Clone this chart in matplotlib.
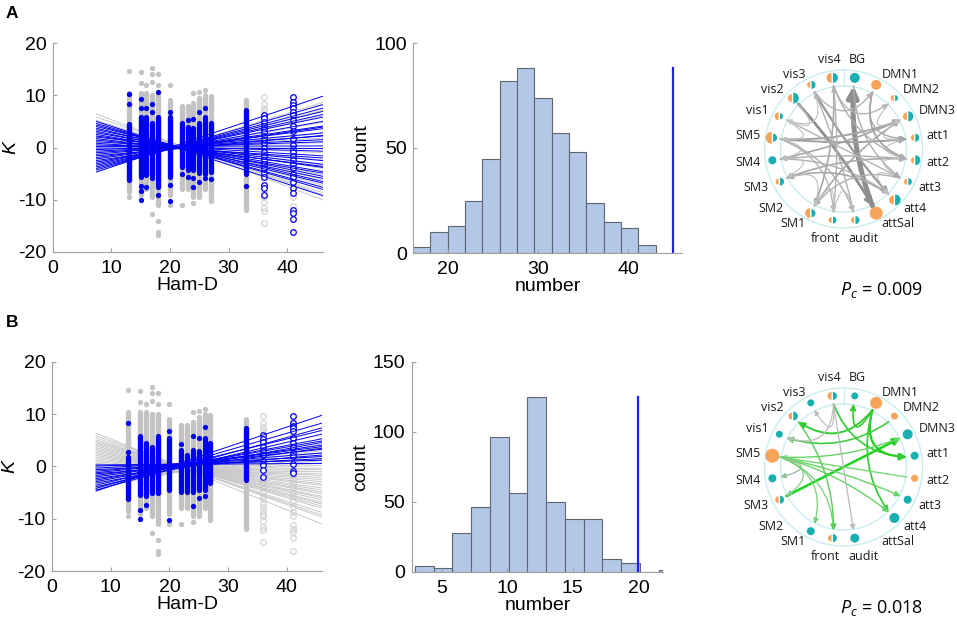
import numpy as np
import matplotlib.pyplot as plt
from matplotlib.patches import Wedge, Circle, FancyArrowPatch
from matplotlib.path import Path

plt.rcParams['font.family'] = ['Liberation Sans', 'DejaVu Sans']
plt.rcParams['axes.unicode_minus'] = False
plt.rcParams['mathtext.fontset'] = 'custom'
plt.rcParams['mathtext.it'] = 'Open Sans:italic'
plt.rcParams['mathtext.rm'] = 'Open Sans'

# ---------------- data: K vs Ham-D scatter ----------------
hamd_cols = [13, 15, 16, 17, 18, 20, 22, 23, 24, 25, 26, 27, 33]
gray_lo = [-8.5, -9.0, -8.0, -9.5, -11.0, -9.0, -8.0, -8.0, -9.5, -9.5, -8.0, -10.3, -12.0]
gray_hi = [10.5, 10.5, 10.5, 10.0, 10.0, 9.0, 8.0, 8.0, 8.5, 9.5, 10.0, 9.8, 9.0]
gray_extra_x = [13, 13, 15, 15, 16, 17, 17, 17, 17, 18, 18, 18, 18, 18, 20, 20, 22, 24, 24, 25, 26]
gray_extra_k = [14.7, -9.5, 14.5, 12.3, 12.0, 15.3, 14.0, 12.5, -12.7, 14.0, 12.0, -14.0,
                -16.2, -16.7, 12.0, -11.0, -11.0, 10.5, -10.7, 10.7, 11.0]

open36_all = [9.7, 8.3, 7.6, 6.9, 6.2, 5.6, 5.3, 4.9, 4.6, 4.2, 3.8, 3.6, 3.0, 2.9, 2.2, 1.4,
              1.0, 0.8, 0.2, 0.0, -0.6, -0.8, -1.6, -2.0, -2.4, -3.2, -4.0, -4.8, -5.6, -6.3,
              -7.1, -7.8, -8.5, -9.0, -9.5, -10.5, -11.5, -12.2, -14.5]
open41_all = [9.7, 8.7, 8.3, 8.1, 7.8, 7.5, 7.3, 6.8, 6.7, 6.2, 5.5, 5.2, 4.5, 4.1, 3.8, 3.1,
              2.6, 2.0, 1.7, 0.4, -0.2, -0.8, -1.2, -1.6, -2.4, -3.2, -4.0, -5.0, -5.6, -6.6,
              -7.8, -8.8, -9.5, -11.2, -12.0, -12.5, -13.6, -16.2]

# panel A significant (blue) points
blue_a_lo = [-6.2, -5.6, -5.3, -5.3, -7.5, -5.6, -3.7, -4.3, -4.3, -4.8, -5.0, -4.6, -5.0]
blue_a_hi = [4.5, 5.9, 5.9, 4.6, 5.9, 5.9, 4.6, 3.9, 3.7, 4.6, 5.8, 4.6, 7.2]
blue_a_extra_x = [13, 13, 15, 15, 15, 15, 15, 16, 16, 17, 17, 17, 18, 18, 20, 20, 20, 22,
                  23, 23, 24, 24, 24, 25, 25, 26, 26, 27, 33]
blue_a_extra_k = [10.3, 8.3, 9.3, 7.5, -7.4, -8.3, -10.1, 7.5, -7.5, 8.4, 6.8, -5.9, 10.6,
                  -9.0, 6.8, -7.2, -10.3, -5.0, 5.2, -5.6, 5.5, -5.9, -7.5, 6.8, -6.6, 7.5,
                  -5.9, -6.0, -7.3]
blue_a_36 = [6.2, 5.6, 4.9, 4.2, 3.6, 2.9, 2.2, 1.4, 0.8, 0.0, -0.8, -1.6, -2.4, -3.2, -4.0,
             -4.8, -5.6, -7.1, -7.8, -9.0]
blue_a_41 = [9.7, 8.7, 8.1, 7.5, 6.8, 6.2, 5.2, 4.1, 3.1, 1.7, 0.4, -0.2, -0.8, -1.6, -2.4,
             -3.2, -4.0, -5.0, -5.6, -6.6, -7.8, -8.8, -12.0, -12.5, -13.6, -16.2]

# panel B significant (blue) points
blue_b_lo = [-6.3, -5.4, -5.7, -5.0, -5.1, -4.5, -4.8, -4.8, -4.8, -4.5, -4.5, -3.2, -2.5]
blue_b_hi = [1.9, 5.9, 4.5, 3.8, 5.8, 5.4, 3.2, 2.2, 3.2, 3.0, 5.5, 4.5, 7.3]
blue_b_extra_x = [13, 13, 15, 15, 16, 20, 20, 22, 24, 24, 25, 25, 26, 26]
blue_b_extra_k = [8.3, 2.8, -8.4, -10.1, -7.4, 6.7, -10.2, 4.3, 5.9, -7.5, 5.5, -6.0, 7.6, -5.7]
blue_b_36 = [6.0, 5.3, 4.6, 3.8, 3.0, 2.2, 1.0, 0.2, -0.6, -2.0]
blue_b_41 = [9.7, 8.3, 7.8, 7.3, 6.7, 5.5, 4.5, 3.8, 2.6, 2.0, 0.4, -0.8, -1.2]

# regression lines: K at Ham-D = 7.5 (left) and 46 (right)
line_x = [7.5, 46]
gray_a_left = [6.4, 5.8, 5.2, 4.8, 4.2, 3.5, 2.9, 2.2, 1.6, 1.0, 0.4, -0.3, -0.9, -1.5, -2.1,
               -2.8, -3.4, -4.0, -4.5]
gray_a_right = [-10.0, -9.0, -8.6, -7.2, -6.1, -5.2, -4.0, -3.3, -2.4, -1.0, -0.2, 0.9, 1.8,
                2.7, 3.9, 4.8, 6.0, 7.1, 8.6]
blue_a_left = [5.0, 4.6, 4.3, 4.0, 3.7, 3.4, 3.1, 2.8, 2.5, 2.2, 2.0, 1.7, 1.4, 1.1, 0.8, 0.5,
               0.2, -0.1, -0.4, -0.7, -1.0, -1.3, -1.6, -1.9, -2.2, -2.5, -2.8, -3.1, -3.4,
               -3.7, -4.0, -4.3, -4.7]
blue_a_right = [-9.2, -8.0, -7.6, -6.5, -6.8, -5.5, -5.9, -4.6, -4.9, -3.8, -3.2, -3.6, -2.5,
                -1.6, -2.0, -0.7, 0.3, -0.2, 1.1, 1.5, 2.2, 2.8, 2.3, 3.6, 4.1, 3.9, 5.0, 5.8,
                6.3, 6.9, 7.5, 8.2, 9.8]
gray_b_left = [6.4, 5.9, 5.5, 5.1, 4.8, 4.5, 4.2, 3.9, 3.6, 3.3, 3.0, 2.7, 2.4, 2.1, 1.8, 1.5,
               1.2, 0.9, 0.6, 0.3, 0.0, -0.3, -0.6, -0.9, -1.2, -1.5, -1.8, -2.1, -2.4, -2.7,
               -3.0, -3.4, -3.8, -4.1]
gray_b_right = [-11.0, -9.7, -9.3, -8.8, -8.0, -7.6, -7.2, -6.9, -6.4, -6.0, -5.7, -5.2, -4.9,
                -4.5, -4.1, -3.6, -3.3, -2.9, -2.5, -2.1, -1.7, -1.4, -1.0, -0.6, -0.3, 0.2,
                0.6, 1.1, 1.5, 2.0, 2.6, 3.1, 3.7, 4.3]
blue_b_left = [0.3, 0.1, -0.3, -0.6, -0.9, -1.2, -1.4, -1.7, -2.0, -2.3, -2.6, -2.9, -3.2,
               -3.6, -3.9, -4.2, -4.5, -4.7]
blue_b_right = [0.6, 1.2, 1.9, 1.5, 2.6, 3.3, 2.2, 3.8, 4.1, 3.5, 4.9, 5.3, 4.6, 6.9, 6.2,
                8.3, 7.4, 9.8]

# ---------------- data: permutation histograms ----------------
a_counts = [3, 10, 13, 25, 45, 82, 88, 74, 57, 48, 24, 15, 12, 4]
a_bin_lo, a_bin_w = 16.1, 1.926
a_observed, a_obs_top = 45, 88
b_counts = [4, 3, 28, 46, 96, 56, 125, 50, 38, 38, 9, 6, 0, 1]
b_bin_lo, b_bin_w = 2.96, 1.43
b_observed, b_obs_top = 20, 125

# ---------------- data: circular graphs ----------------
nodes = ['BG', 'DMN1', 'DMN2', 'DMN3', 'att1', 'att2', 'att3', 'att4', 'attSal', 'audit',
         'front', 'SM1', 'SM2', 'SM3', 'SM4', 'SM5', 'vis1', 'vis2', 'vis3', 'vis4']
a_orange = [0, 5, 3, 4, 3, 3, 3, 4.5, 6.5, 3, 3, 5, 0, 3, 0, 6, 4, 4, 3, 5]
a_teal = [5, 0, 3, 5, 4, 5, 3.5, 5.5, 0, 4, 3.5, 4, 0, 4, 4, 4, 3, 5.5, 4, 5]
b_orange = [0, 6, 3.5, 0, 0, 3.5, 0, 0, 0, 0, 3.5, 0, 0, 3.5, 0, 7, 0, 3.5, 0, 4]
b_teal = [3.5, 0, 0, 5, 4, 0, 4, 5, 0, 4.5, 4, 4, 0, 4, 4, 0, 3.5, 4.5, 3.5, 4]

a_edges = [('attSal', 'BG', 3.6, '#8E8E8E'), ('vis2', 'attSal', 2.0, '#8E8E8E'),
           ('vis3', 'att4', 1.6, '#9A9A9A'), ('vis4', 'SM1', 1.2, '#A8A8A8'),
           ('vis4', 'DMN2', 1.0, '#B4B4B4'), ('vis3', 'DMN1', 1.0, '#B4B4B4'),
           ('DMN1', 'att2', 1.2, '#A0A0A0'), ('SM5', 'att1', 1.4, '#A0A0A0'),
           ('SM5', 'DMN3', 1.4, '#A4A4A4'), ('SM4', 'DMN3', 1.2, '#A4A4A4'),
           ('SM3', 'att2', 1.2, '#A8A8A8'), ('SM1', 'DMN3', 1.2, '#A8A8A8'),
           ('att2', 'SM4', 1.0, '#B0B0B0'), ('vis1', 'att3', 1.0, '#B4B4B4'),
           ('front', 'vis4', 1.0, '#B4B4B4'), ('audit', 'vis3', 1.0, '#B0B0B0'),
           ('att4', 'SM3', 1.2, '#A8A8A8'), ('att3', 'SM1', 1.0, '#B0B0B0'),
           ('SM5', 'audit', 1.0, '#B0B0B0'), ('SM5', 'front', 1.0, '#B4B4B4'),
           ('SM4', 'att4', 1.0, '#B0B0B0'), ('vis1', 'SM5', 0.8, '#BEBEBE'),
           ('SM5', 'SM4', 0.8, '#BEBEBE'), ('SM4', 'SM3', 0.8, '#BEBEBE'),
           ('SM3', 'SM1', 0.8, '#BEBEBE'), ('SM1', 'front', 0.8, '#BEBEBE'),
           ('front', 'audit', 0.8, '#BEBEBE'), ('DMN3', 'att1', 0.8, '#BEBEBE'),
           ('att1', 'att2', 0.8, '#BEBEBE'), ('att2', 'att3', 0.8, '#BEBEBE'),
           ('att3', 'att4', 0.8, '#BEBEBE'), ('DMN2', 'DMN3', 0.8, '#BEBEBE'),
           ('vis2', 'vis1', 0.8, '#BEBEBE'), ('vis3', 'vis1', 0.8, '#C4C4C4'),
           ('DMN1', 'att1', 1.0, '#A8A8A8'), ('BG', 'att3', 1.0, '#ACACAC'),
           ('vis4', 'att2', 1.0, '#ACACAC')]
b_edges = [('SM3', 'DMN3', 1.8, '#1ED21E'), ('DMN1', 'att1', 1.6, '#1ED21E'),
           ('DMN1', 'vis2', 1.4, '#33CC33'), ('DMN2', 'vis1', 1.2, '#44CC44'),
           ('DMN1', 'BG', 1.2, '#33CC33'), ('DMN1', 'att4', 1.2, '#33CC33'),
           ('vis4', 'att1', 1.2, '#33CC33'), ('SM5', 'DMN3', 1.0, '#66D466'),
           ('SM5', 'att3', 1.0, '#66D466'), ('SM5', 'att4', 1.0, '#66D466'),
           ('att2', 'SM5', 1.0, '#77D877'), ('SM5', 'SM4', 0.9, '#99BB99'),
           ('SM5', 'SM3', 0.9, '#88CC88'), ('SM5', 'SM1', 0.9, '#77D077'),
           ('SM5', 'front', 0.9, '#77D077'), ('vis2', 'front', 1.0, '#55CC55'),
           ('vis4', 'vis1', 0.9, '#BBBBBB'), ('vis4', 'vis3', 0.8, '#BBBBBB'),
           ('vis4', 'audit', 0.9, '#BBBBBB')]

W, H = 957, 623
fig = plt.figure(figsize=(W / 100, H / 100), dpi=100)

BLUE = '#0000F5'
GRAY = '#C3C3C3'
AXC = '#A0A0A0'
TEAL = '#17AFB0'
ORANGE = '#F7A45A'
RING = '#C2ECEE'
FS = 14


def px_axes(x0, y0, x1, y1):
    # pixel box (left, top, right, bottom) -> axes
    return fig.add_axes([x0 / W, 1 - y1 / H, (x1 - x0) / W, (y1 - y0) / H])


def style(ax):
    for s in ['top', 'right']:
        ax.spines[s].set_visible(False)
    for s in ['left', 'bottom']:
        ax.spines[s].set_color(AXC)
        ax.spines[s].set_linewidth(0.8)
    ax.tick_params(direction='in', length=3, color=AXC, labelsize=FS)
    ax.tick_params(axis='x', pad=6)
    ax.tick_params(axis='y', pad=4.5)


def scatter_panel(ax, b_lo, b_hi, bx, bk, b36, b41, gl, gr, bl, br):
    ax.vlines(hamd_cols, gray_lo, gray_hi, color=GRAY, lw=3.8, capstyle='round')
    ax.plot(gray_extra_x, gray_extra_k, 'o', ms=3.8, color=GRAY, mec='none')
    ax.plot([36] * len(open36_all), open36_all, 'o', mfc='none', mec='#D4D4D4', ms=4, mew=0.9)
    ax.plot([41] * len(open41_all), open41_all, 'o', mfc='none', mec='#D4D4D4', ms=4, mew=0.9)
    for l, r in zip(gl, gr):
        ax.plot(line_x, [l, r], color='#C8C8C8', lw=0.7)
    ax.vlines(hamd_cols, b_lo, b_hi, color=BLUE, lw=3.8, capstyle='round')
    ax.plot(bx, bk, 'o', ms=3.8, color=BLUE, mec='none')
    ax.plot([36] * len(b36), b36, 'o', mfc='white', mec=BLUE, ms=4, mew=0.9)
    ax.plot([41] * len(b41), b41, 'o', mfc='white', mec=BLUE, ms=4, mew=0.9)
    for l, r in zip(bl, br):
        ax.plot(line_x, [l, r], color=BLUE, lw=0.7)
    ax.set_xlim(0, 46)
    ax.set_ylim(-20, 20)
    ax.set_xticks([0, 10, 20, 30, 40])
    ax.set_yticks([-20, -10, 0, 10, 20])
    ax.set_xlabel('Ham-D', fontsize=FS, labelpad=0)
    ax.set_ylabel('K', fontsize=FS, style='italic', labelpad=-1)
    style(ax)


def hist_panel(ax, counts, lo, w, obs, top, xlim, yticks, xticks):
    edges = lo + w * np.arange(len(counts))
    ax.bar(edges, counts, width=w, align='edge', color='#B4C7E7', edgecolor='#5E6672', lw=0.8)
    ax.plot([obs, obs], [0, top], color='#1F1FFF', lw=1.6)
    ax.set_xlim(*xlim)
    ax.set_ylim(0, yticks[-1])
    ax.set_xticks(xticks)
    ax.set_yticks(yticks)
    ax.set_xlabel('number', fontsize=FS, labelpad=0)
    ax.set_ylabel('count', fontsize=FS, labelpad=3)
    style(ax)


R_IN, R_OUT, R_NODE, R_END, R_LAB = 63, 79, 72, 64, 84


def chord_panel(ax, orange, teal, edges):
    ax.set_xlim(-130, 130)
    ax.set_ylim(-130, 130)
    ax.axis('off')
    ang = np.deg2rad(81 - 18 * np.arange(len(nodes)))
    pos = {n: np.array([np.cos(a), np.sin(a)]) for n, a in zip(nodes, ang)}
    for r in (R_IN, R_OUT):
        ax.add_patch(Circle((0, 0), r, fill=False, ec=RING, lw=0.9))
    ax.plot([0, 0], [R_IN, R_OUT], color=RING, lw=0.9)
    for src, dst, w, c in edges:
        p0 = R_END * pos[src]
        p1 = R_END * pos[dst]
        ctrl = 0.35 * (p0 + p1) / 2
        path = Path([p0, ctrl, p1], [Path.MOVETO, Path.CURVE3, Path.CURVE3])
        ax.add_patch(FancyArrowPatch(path=path, arrowstyle='-|>,head_length=0.6,head_width=0.3',
                                     mutation_scale=3.5 + 2 * w, lw=w, color=c))
    for n, o, t in zip(nodes, orange, teal):
        cx, cy = R_NODE * pos[n]
        if o and t:
            ax.add_patch(Wedge((cx - 0.7, cy), o, 90, 270, fc=ORANGE, ec='none'))
            ax.add_patch(Wedge((cx + 0.7, cy), t, -90, 90, fc=TEAL, ec='none'))
        elif o:
            ax.add_patch(Circle((cx, cy), o, fc=ORANGE, ec='none'))
        elif t:
            ax.add_patch(Circle((cx, cy), t, fc=TEAL, ec='none'))
        c, s = pos[n]
        tx, ty = R_LAB * c, R_LAB * s
        if abs(c) < 0.3:
            # labels next to the vertical axis sit side by side
            ha = 'right' if c < 0 else 'left'
            tx = -3 if c < 0 else 5
            va = 'bottom' if s > 0 else 'top'
        else:
            ha = 'left' if c > 0 else 'right'
            va = 'center'
        ax.text(tx, ty, n, ha=ha, va=va, fontsize=9,
                family=['Open Sans', 'DejaVu Sans'], color='#1A1A1A')


# ---------------- row A ----------------
ax1 = px_axes(52.5, 43, 322.5, 252)
scatter_panel(ax1, blue_a_lo, blue_a_hi, blue_a_extra_x, blue_a_extra_k, blue_a_36, blue_a_41,
              gray_a_left, gray_a_right, blue_a_left, blue_a_right)
ax2 = px_axes(413, 43, 682, 253)
hist_panel(ax2, a_counts, a_bin_lo, a_bin_w, a_observed, a_obs_top, (16.1, 46),
           [0, 50, 100], [20, 30, 40])
ax3 = px_axes(843.5 - 130, 149 - 130, 843.5 + 130, 149 + 130)
chord_panel(ax3, a_orange, a_teal, a_edges)

# ---------------- row B ----------------
ax4 = px_axes(52, 362, 322, 571)
scatter_panel(ax4, blue_b_lo, blue_b_hi, blue_b_extra_x, blue_b_extra_k, blue_b_36, blue_b_41,
              gray_b_left, gray_b_right, blue_b_left, blue_b_right)
ax5 = px_axes(411.7, 361.7, 663.3, 571.7)
hist_panel(ax5, b_counts, b_bin_lo, b_bin_w, b_observed, b_obs_top, (2.71, 21.9),
           [0, 50, 100, 150], [5, 10, 15, 20])
ax6 = px_axes(843.5 - 130, 467 - 130, 843.5 + 130, 467 + 130)
chord_panel(ax6, b_orange, b_teal, b_edges)

fig.text(881 / W, 1 - 290 / H, r'$P_c$ = 0.009', ha='center', va='center', fontsize=13,
         family=['Open Sans', 'DejaVu Sans'])
fig.text(881 / W, 1 - 608 / H, r'$P_c$ = 0.018', ha='center', va='center', fontsize=13,
         family=['Open Sans', 'DejaVu Sans'])
fig.text(6 / W, 1 - 6 / H, 'A', ha='left', va='top', fontsize=12.5, fontweight='bold')
fig.text(6 / W, 1 - 315 / H, 'B', ha='left', va='top', fontsize=12.5, fontweight='bold')

fig.savefig('out.png', dpi=100)
